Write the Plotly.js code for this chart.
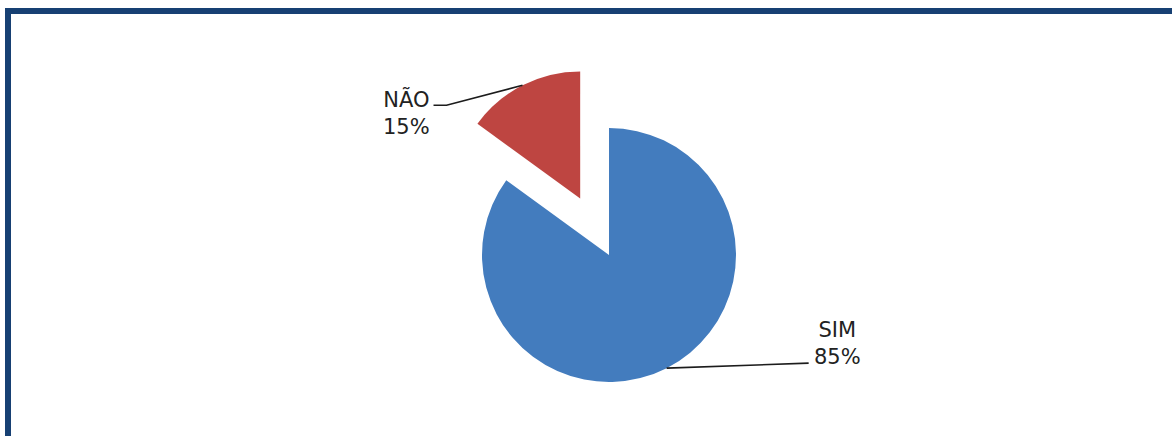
<!DOCTYPE html>
<html><head><meta charset="utf-8">
<script src="https://cdn.plot.ly/plotly-3.0.1.min.js"></script>
<style>html,body{margin:0;padding:0;overflow:hidden;background:#fff}</style>
</head><body><div id="chart"></div>
<script>
// ---- data ----
const labels = ['NÃO', 'SIM'];
const values = [15, 85];
const colors = ['#BE4541', '#437CBE'];
const pulls = [0.5, 0];

// ---- layout / style ----
const W = 1172, H = 460;
const cx = 609, cy = 255, boxHalf = 190.5;
// label placement (pixel offsets from each slice's leader anchor)
const labelStyle = [
  { text: [-116, 27], path: [[-76, 20], [-89, 20]] },
  { text: [171, -25], path: [[142, -5]] }
];
const px = x => x / W;
const py = y => 1 - y / H;

const total = values.reduce((a, b) => a + b, 0);
const maxPull = Math.max(...pulls);
const r = boxHalf / (1 + maxPull);

const shapes = [];
const annotations = [];
let acc = 0;
values.forEach((v, i) => {
  const frac = v / total;
  const mid = (acc + frac / 2) * 2 * Math.PI; // ccw from top (screen)
  acc += frac;
  const dx = -Math.sin(mid), dy = -Math.cos(mid);
  const pcx = cx + pulls[i] * r * dx, pcy = cy + pulls[i] * r * dy;
  const ax = pcx + r * dx, ay = pcy + r * dy;
  const st = labelStyle[i];
  let d = `M ${px(ax)} ${py(ay)}`;
  st.path.forEach(p => { d += ` L ${px(ax + p[0])} ${py(ay + p[1])}`; });
  shapes.push({ type: 'path', xref: 'paper', yref: 'paper', path: d,
    line: { color: '#1c1c1c', width: 1.6 } });
  annotations.push({
    xref: 'paper', yref: 'paper', x: px(ax + st.text[0]), y: py(ay + st.text[1]),
    xanchor: 'center', yanchor: 'middle', showarrow: false, align: 'center',
    text: labels[i] + '<br>' + Math.round(frac * 100) + '%',
    font: { family: 'DejaVu Sans, Verdana, sans-serif', size: 21, color: '#222222' }
  });
});

// frame border
shapes.push({ type: 'rect', xref: 'paper', yref: 'paper', layer: 'above',
  x0: px(8), y0: -0.2, x1: 1.2, y1: py(11),
  line: { color: '#174073', width: 6 } });

// first slice ends at 12 o'clock: start it one slice-width to the left
const startRotation = -360 * values[0] / total;

const trace = {
  type: 'pie', labels: labels, values: values, sort: false,
  direction: 'clockwise', rotation: startRotation, pull: pulls,
  marker: { colors: colors, line: { width: 0 } },
  textinfo: 'none', hoverinfo: 'label+percent', showlegend: false,
  domain: { x: [px(cx - boxHalf), px(cx + boxHalf)], y: [py(cy + boxHalf), py(cy - boxHalf)] }
};

Plotly.newPlot('chart', [trace], {
  width: W, height: H, margin: { l: 0, r: 0, t: 0, b: 0 },
  paper_bgcolor: '#ffffff', plot_bgcolor: '#ffffff',
  shapes: shapes, annotations: annotations, showlegend: false
}, { displayModeBar: false, staticPlot: true });
</script></body></html>
